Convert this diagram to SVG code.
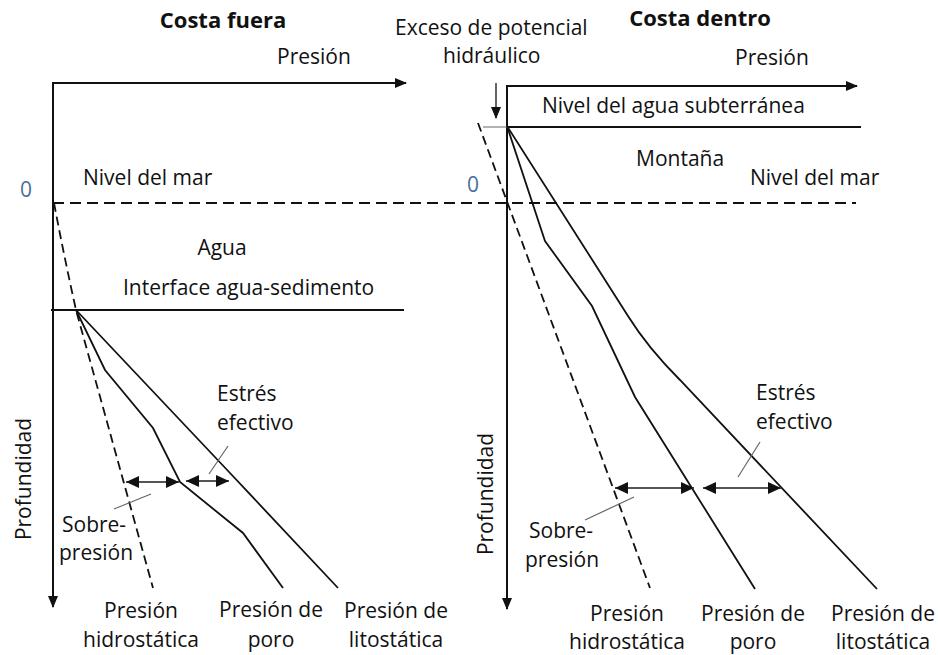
<svg xmlns="http://www.w3.org/2000/svg" width="938" height="655" viewBox="0 0 938 655">
<defs>
<style>
.t{font-family:"Open Sans","Noto Sans","Liberation Sans",sans-serif;font-size:21px;fill:#111}
.b{font-family:"Open Sans","Noto Sans","Liberation Sans",sans-serif;font-size:22px;font-weight:bold;fill:#111}
.z{font-family:"Open Sans","Noto Sans","Liberation Sans",sans-serif;font-size:21px;fill:#4a6e9a}
.m{text-anchor:middle}
.ax{stroke:#111;stroke-width:2;fill:none}
.ln{stroke:#111;stroke-width:1.8;fill:none}
.dh{stroke:#111;stroke-width:2;fill:none;stroke-dasharray:11 6}
.dl{stroke:#111;stroke-width:1.8;fill:none;stroke-dasharray:9 5}
.gl{stroke:#666;stroke-width:1.2;fill:none}
.da{stroke:#555;stroke-width:2;fill:none;marker-start:url(#ah);marker-end:url(#ah)}
</style>
<marker id="ar" viewBox="0 0 12 10" refX="11" refY="5" markerWidth="12" markerHeight="10" markerUnits="userSpaceOnUse" orient="auto">
<path d="M0,0 L12,5 L0,10 Z" fill="#111"/>
</marker>
<marker id="ah" viewBox="0 0 13 12" refX="13" refY="6" markerWidth="13" markerHeight="12" markerUnits="userSpaceOnUse" orient="auto-start-reverse">
<path d="M0,0 L13,6 L0,12 Z" fill="#111"/>
</marker>
</defs>
<rect width="938" height="655" fill="#fff"/>

<g id="left-panel">
<text class="b m" x="223" y="28">Costa fuera</text>
<text class="t" x="277" y="64">Presión</text>
<text class="z" x="20" y="197">0</text>
<text class="t" x="83" y="185">Nivel del mar</text>
<text class="t m" x="222" y="255">Agua</text>
<text class="t" x="123" y="295">Interface agua-sedimento</text>
<text class="t" x="217" y="401">Estrés</text>
<text class="t" x="217" y="430">efectivo</text>
<text class="t" x="62" y="532">Sobre-</text>
<text class="t" x="59" y="560">presión</text>
<text class="t m" transform="translate(31,479) rotate(-90)">Profundidad</text>
<text class="t m" x="141" y="618">Presión</text>
<text class="t m" x="141" y="647">hidrostática</text>
<text class="t m" x="271" y="617">Presión de</text>
<text class="t m" x="271" y="647">poro</text>
<text class="t m" x="396" y="618">Presión de</text>
<text class="t m" x="396" y="647">litostática</text>
</g>

<g id="right-panel">
<text class="b m" x="700" y="26">Costa dentro</text>
<text class="t" x="395" y="35">Exceso de potencial</text>
<text class="t" x="443" y="63">hidráulico</text>
<text class="t" x="735" y="65">Presión</text>
<text class="t" x="542" y="113">Nivel del agua subterránea</text>
<text class="t" x="636" y="166">Montaña</text>
<text class="z" x="467" y="192">0</text>
<text class="t" x="750" y="185">Nivel del mar</text>
<text class="t" x="756" y="400">Estrés</text>
<text class="t" x="756" y="429">efectivo</text>
<text class="t" x="529" y="538">Sobre-</text>
<text class="t" x="525" y="567">presión</text>
<text class="t m" transform="translate(493,494) rotate(-90)">Profundidad</text>
<text class="t m" x="627" y="621">Presión</text>
<text class="t m" x="627" y="649">hidrostática</text>
<text class="t m" x="753" y="621">Presión de</text>
<text class="t m" x="753" y="649">poro</text>
<text class="t m" x="883" y="621">Presión de</text>
<text class="t m" x="883" y="649">litostática</text>
</g>

<g id="connectors">
<path class="ax" d="M53,83 L406,83" marker-end="url(#ar)"/>
<path class="ax" d="M53,82 L53,607" marker-end="url(#ar)"/>
<line class="dh" x1="53" y1="203" x2="856" y2="203"/>
<line class="ax" x1="51" y1="310" x2="404" y2="310"/>
<path class="dl" d="M54,203 Q64,256 76,310 L153,588"/>
<path class="ln" d="M76,310 L105,370 L153,428 L180,482 L243,533 L283,588"/>
<path class="ln" d="M76,310 L230,473 L338,588"/>
<line class="da" x1="126" y1="482" x2="179" y2="482"/>
<line class="da" x1="186" y1="481" x2="229" y2="481"/>
<line class="gl" x1="209" y1="474" x2="228" y2="446"/>
<line class="gl" x1="114" y1="509" x2="151" y2="494"/>

<path class="ax" d="M506,86 L857,86" marker-end="url(#ar)"/>
<path class="ax" d="M507,85 L507,609" marker-end="url(#ar)"/>
<line x1="483" y1="127" x2="507" y2="127" stroke="#999" stroke-width="1.5"/>
<line class="ax" x1="507" y1="127" x2="861" y2="127"/>
<line stroke="#111" stroke-width="1.3" x1="496" y1="83" x2="496" y2="118" marker-end="url(#ar)"/>
<path class="dl" d="M478,123 L650,588"/>
<path class="ln" d="M507,126 L545,241 L592,306 L635,397 L755,589"/>
<path class="ln" d="M507,126 L628,316 Q648,348 680,380 L877,589"/>
<line class="da" x1="615" y1="488" x2="694" y2="488"/>
<line class="da" x1="703" y1="488" x2="781" y2="488"/>
<line class="gl" x1="738" y1="477" x2="760" y2="442"/>
<line class="gl" x1="585" y1="520" x2="634" y2="497"/>
</g>
</svg>
